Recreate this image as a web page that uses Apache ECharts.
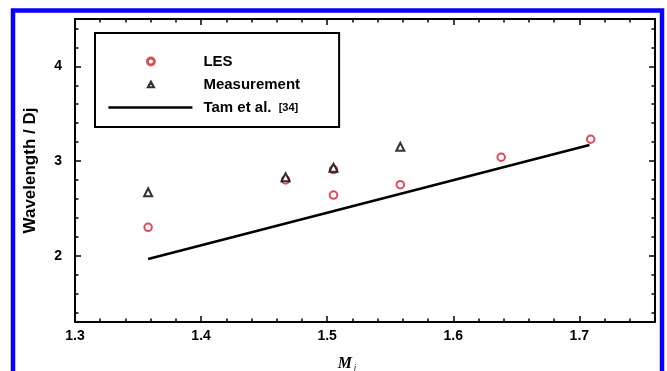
<!DOCTYPE html>
<html>
<head>
<meta charset="utf-8">
<script src="https://cdn.jsdelivr.net/npm/echarts@6/dist/echarts.min.js"></script>
<style>html,body{margin:0;padding:0;background:#fff}#c{width:667px;height:371px}</style>
</head>
<body>
<div id="c"></div>
<script>
// ---- data ----
const lesX = [1.358, 1.467, 1.505, 1.505, 1.558, 1.638, 1.709];
const lesY = [2.30, 2.80, 2.91, 2.64, 2.75, 3.04, 3.23];
const measX = [1.358, 1.467, 1.505, 1.558];
const measY = [2.67, 2.83, 2.93, 3.15];
const tamX = [1.358, 1.708];
const tamY = [1.965, 3.17];
const xMajorTicks = [1.3, 1.4, 1.5, 1.6, 1.7];
const xMinorTicks = [1.32, 1.34, 1.36, 1.38, 1.42, 1.44, 1.46, 1.48, 1.52, 1.54, 1.56, 1.58, 1.62, 1.64, 1.66, 1.68, 1.72, 1.74];
const yMajorTicks = [2, 3, 4];
const yMinorTicks = [1.4, 1.6, 1.8, 2.2, 2.4, 2.6, 2.8, 3.2, 3.4, 3.6, 3.8, 4.2, 4.4];
const seriesNames = ['LES', 'Measurement', 'Tam et al. [34]'];

const FONT = 'Liberation Sans';
const RED = '#d81e30';
const X_MIN = 1.3, X_MAX = 1.76, Y_MIN = 1.3, Y_MAX = 4.5;
const zip = (a, b) => a.map((v, i) => [v, b[i]]);

function xAx(pos, major, showLabel) {
  return {
    type: 'value', position: pos, min: X_MIN, max: X_MAX,
    axisLine: { show: major, onZero: false, lineStyle: { color: '#000', width: 2 } },
    axisTick: { show: true, inside: true, length: major ? 6 : 3.5,
      customValues: major ? xMajorTicks : xMinorTicks,
      lineStyle: { color: '#000', width: 1.5 } },
    axisLabel: { show: showLabel, customValues: xMajorTicks, margin: 7,
      formatter: v => Number(v).toFixed(1),
      fontFamily: FONT, fontWeight: 'bold', fontSize: 14, color: '#000' },
    splitLine: { show: false }
  };
}
function yAx(pos, major, showLabel) {
  return {
    type: 'value', position: pos, min: Y_MIN, max: Y_MAX,
    axisLine: { show: major, onZero: false, lineStyle: { color: '#000', width: 2 } },
    axisTick: { show: true, inside: true, length: major ? 6 : 3.5,
      customValues: major ? yMajorTicks : yMinorTicks,
      lineStyle: { color: '#000', width: 1.5 } },
    axisLabel: { show: showLabel, customValues: yMajorTicks, margin: 13,
      formatter: v => String(Math.round(v)),
      fontFamily: FONT, fontWeight: 'bold', fontSize: 14, color: '#000' },
    splitLine: { show: false }
  };
}

const xMain = xAx('bottom', true, true);
xMain.name = '{m|M}{j|j}';
xMain.nameLocation = 'middle';
xMain.nameGap = 34;
xMain.nameTextStyle = { padding: [0, 36, 0, 0],
  rich: { m: { fontFamily: 'Liberation Serif', fontStyle: 'italic', fontWeight: 'bold', fontSize: 16, color: '#000' },
          j: { fontFamily: 'Liberation Serif', fontStyle: 'italic', fontSize: 9, color: '#000', verticalAlign: 'bottom', padding: [6, 0, 0, 2] } } };

const yMain = yAx('left', true, true);
yMain.name = 'Wavelength / Dj';
yMain.nameLocation = 'middle';
yMain.nameGap = 36;
yMain.nameTextStyle = { fontFamily: FONT, fontWeight: 'bold', fontSize: 17, color: '#000' };

const chart = echarts.init(document.getElementById('c'), null, { renderer: 'canvas' });
chart.setOption({
  backgroundColor: '#fff',
  animation: false,
  grid: { left: 75, right: 12, top: 19, bottom: 49, outerBoundsMode: 'none', containLabel: false },
  graphic: [{
    type: 'rect', silent: true, z: 100,
    shape: { x: 13, y: 10.5, width: 649, height: 420 },
    style: { fill: null, stroke: '#0a00ff', lineWidth: 4.5 }
  }],
  legend: {
    orient: 'vertical', left: 95, top: 33,
    padding: [21, 39, 12, 12], itemGap: 8,
    itemWidth: 90, itemHeight: 8,
    borderColor: '#000', borderWidth: 2, backgroundColor: '#fff',
    data: [
      { name: seriesNames[0],
        icon: 'path://M0,4 L0.01,4 M39,4 A3.5,3.5 0 1 1 46,4 A3.5,3.5 0 1 1 39,4 Z M89.99,4 L90,4',
        itemStyle: { color: '#fff', borderColor: RED, borderWidth: 2.8 } },
      { name: seriesNames[1],
        icon: 'path://M0,4 L0.01,4 M39.5,7 L42.5,1.5 L45.5,7 Z M89.99,4 L90,4',
        itemStyle: { color: '#fff', borderColor: '#000', borderWidth: 2.2 } },
      { name: seriesNames[2],
        icon: 'path://M0,0 L84,0 L84,2.6 L0,2.6 Z M89.99,0 L90,0 L90,2.6 L89.99,2.6 Z',
        itemStyle: { color: '#000', borderWidth: 0 } }
    ],
    formatter: n => n.replace('[34]', '{s|[34]}'),
    textStyle: { fontFamily: FONT, fontWeight: 'bold', fontSize: 15, color: '#000',
      rich: { s: { fontFamily: FONT, fontWeight: 'bold', fontSize: 11, color: '#000', padding: [0, 0, 0, 3] } } }
  },
  xAxis: [xMain, xAx('bottom', false, false), xAx('top', true, false), xAx('top', false, false)],
  yAxis: [yMain, yAx('left', false, false), yAx('right', true, false), yAx('right', false, false)],
  series: [
    { name: seriesNames[0], type: 'scatter', xAxisIndex: 0, yAxisIndex: 0,
      symbol: 'emptyCircle', symbolSize: 7.5,
      itemStyle: { color: RED, borderColor: RED, borderWidth: 3 },
      data: zip(lesX, lesY) },
    { name: seriesNames[1], type: 'scatter', xAxisIndex: 0, yAxisIndex: 0,
      symbol: 'emptyTriangle', symbolSize: 8,
      itemStyle: { color: '#000', borderColor: '#000', borderWidth: 2.5 },
      data: zip(measX, measY) },
    { name: seriesNames[2], type: 'line', xAxisIndex: 0, yAxisIndex: 0,
      symbol: 'none', showSymbol: false,
      lineStyle: { color: '#000', width: 2.5 }, itemStyle: { color: '#000' },
      data: zip(tamX, tamY) }
  ]
});
</script>
</body>
</html>
